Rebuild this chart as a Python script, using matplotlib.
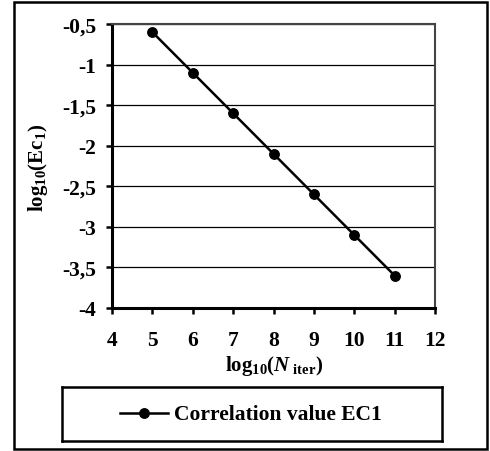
import matplotlib
matplotlib.use("Agg")
import matplotlib.pyplot as plt
from matplotlib.patches import Rectangle

plt.rcParams['font.family'] = ['Liberation Serif', 'DejaVu Serif']
plt.rcParams['font.weight'] = 'bold'
plt.rcParams['mathtext.fontset'] = 'custom'
plt.rcParams['mathtext.rm'] = 'Liberation Serif:bold'
plt.rcParams['mathtext.bf'] = 'Liberation Serif:bold'
plt.rcParams['mathtext.it'] = 'Liberation Serif:bold:italic'

log_iter = [5, 6, 7, 8, 9, 10, 11]
log_ec1 = [-0.6, -1.1, -1.6, -2.1, -2.6, -3.1, -3.6]
x_ticks = [4, 5, 6, 7, 8, 9, 10, 11, 12]
y_ticks = [-4, -3.5, -3, -2.5, -2, -1.5, -1, -0.5]
series_name = "Correlation value EC1"

W, H = 490, 452
fig = plt.figure(figsize=(W / 100, H / 100), dpi=100)

# outer border
fig.patches.append(Rectangle((14 / W, 1 - 450 / H), (487 - 14) / W, (450 - 3) / H,
                             transform=fig.transFigure, fill=False, lw=1.8,
                             edgecolor='black'))

ax = fig.add_axes([112 / W, 1 - 309 / H, (435 - 112) / W, (309 - 25) / H])
ax.plot(log_iter, log_ec1, color='black', lw=1.8, marker='o', markersize=6.8,
        label=series_name, zorder=3, clip_on=False)
ax.set_xlim(4, 12)
ax.set_ylim(-4, -0.5)
ax.set_xticks(x_ticks)
ax.set_xticklabels([('%g' % v) for v in x_ticks], fontweight='bold', fontsize=15.5)
ax.set_yticks(y_ticks)
ax.set_yticklabels([('%g' % v).replace('.', ',') for v in y_ticks],
                   fontweight='bold', fontsize=15.5)
ax.grid(axis='y', color='black', lw=0.9)
ax.set_axisbelow(True)
for s in ['left', 'bottom']:
    ax.spines[s].set_linewidth(2.2)
for s in ['top', 'right']:
    ax.spines[s].set_linewidth(1.5)
    ax.spines[s].set_color('#444444')
ax.tick_params(direction='out', length=4.5, width=1.8)
ax.tick_params(axis='x', pad=11.5)
ax.tick_params(axis='y', pad=7)

fig.text(274 / W, 1 - 366 / H, r'log$_{10}$($N_{\ \mathrm{iter}}$)', fontsize=15,
         fontweight='bold', ha='center', va='center')
fig.text(38 / W, 1 - 168 / H, r'log$_{10}$(Ec$_{1}$)', fontsize=15,
         fontweight='bold', ha='center', va='center', rotation=90)

# legend box
leg_ax = fig.add_axes([62 / W, 1 - 442 / H, (442 - 62) / W, (442 - 388) / H])
leg_ax.set_xlim(0, 1)
leg_ax.set_ylim(0, 1)
leg_ax.set_xticks([])
leg_ax.set_yticks([])
for s in leg_ax.spines.values():
    s.set_linewidth(1.8)
leg_ax.plot([0.153, 0.279], [0.52, 0.52], color='black', lw=1.8)
leg_ax.plot([0.216], [0.52], marker='o', color='black', markersize=6.8)
leg_ax.text(0.295, 0.5, series_name, fontsize=15.5, fontweight='bold',
            va='center', ha='left')

fig.savefig('out.png', dpi=100)
